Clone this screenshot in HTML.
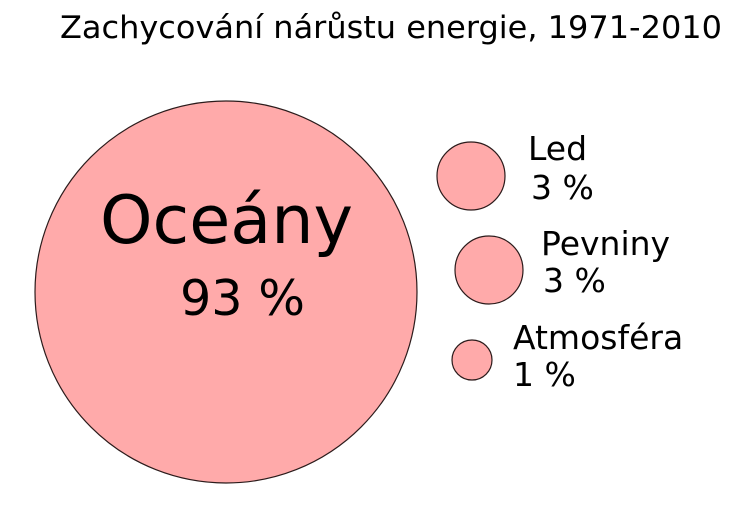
<!DOCTYPE html>
<html><head><meta charset="utf-8"><style>
html,body{margin:0;padding:0;background:#fff;}
svg{display:block;}
text{font-family:"DejaVu Sans","Liberation Sans",sans-serif;fill:#000;}
</style></head><body>
<svg width="736" height="512" viewBox="0 0 736 512" xmlns="http://www.w3.org/2000/svg">
<rect width="736" height="512" fill="#fff"/>
<text x="60" y="38" font-size="31" textLength="662" lengthAdjust="spacingAndGlyphs">Zachycování nárůstu energie, 1971-2010</text>
<g fill="#ffaaaa" stroke="#2b1b1b" stroke-width="1.2">
<circle cx="226" cy="292" r="191"/>
<circle cx="471" cy="176" r="34"/>
<circle cx="489" cy="270" r="34"/>
<circle cx="472" cy="360" r="20"/>
</g>
<text x="100" y="243" font-size="67" textLength="253" lengthAdjust="spacingAndGlyphs">Oceány</text>
<text x="180" y="315" font-size="49" textLength="125" lengthAdjust="spacingAndGlyphs">93 %</text>
<text x="528" y="160" font-size="33">Led</text>
<text x="531" y="199" font-size="33">3 %</text>
<text x="541" y="255" font-size="33">Pevniny</text>
<text x="543" y="292" font-size="33">3 %</text>
<text x="513" y="349" font-size="33">Atmosféra</text>
<text x="513" y="386" font-size="33">1 %</text>
</svg>
</body></html>
